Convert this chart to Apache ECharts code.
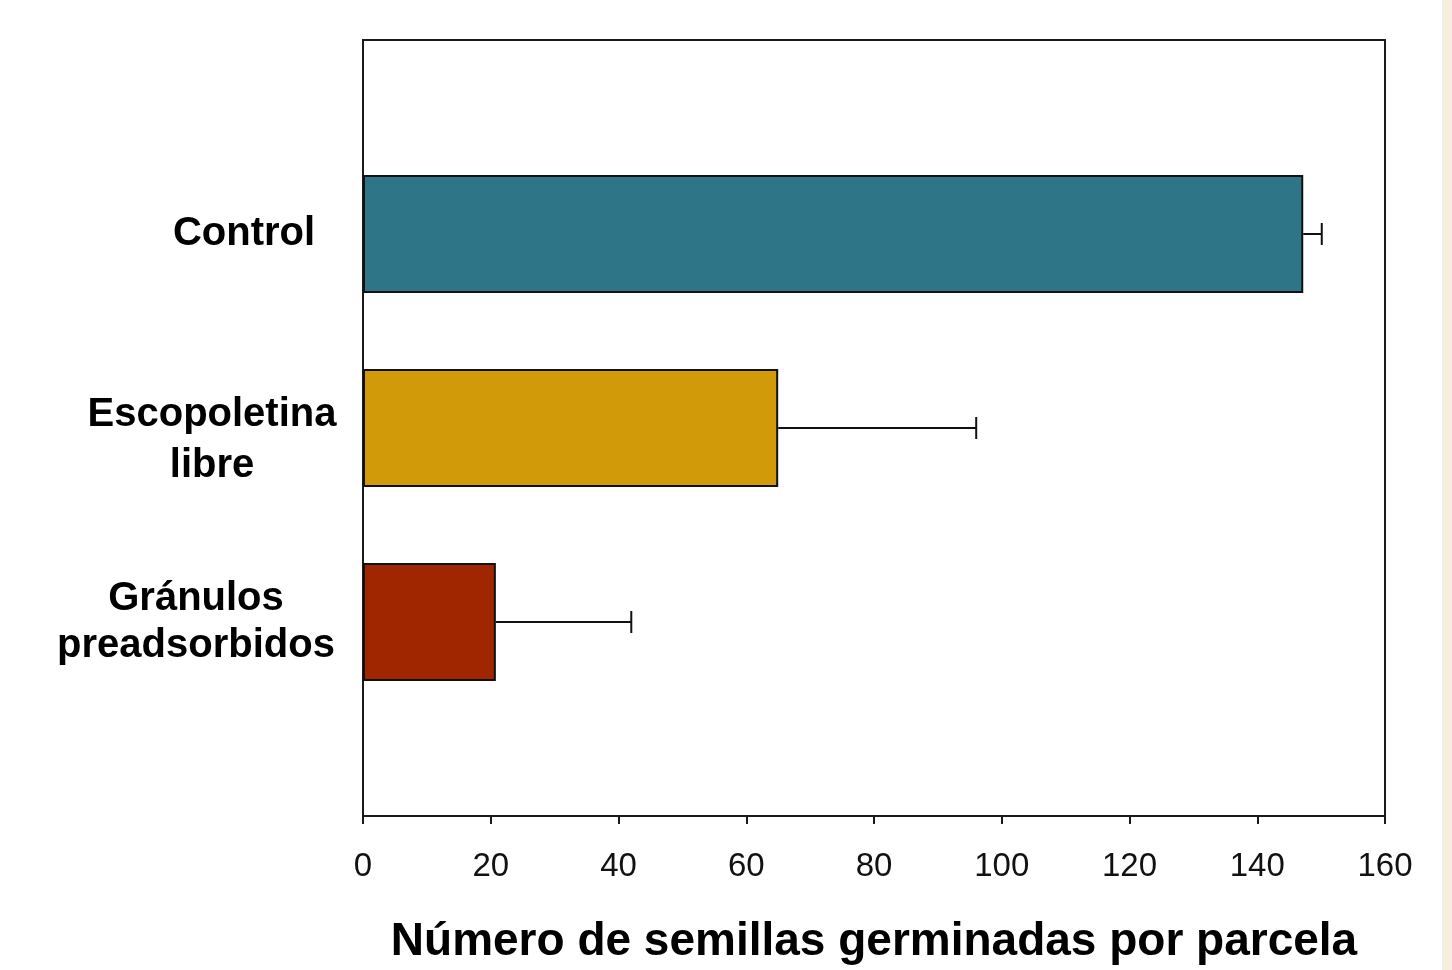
<!DOCTYPE html>
<html>
<head>
<meta charset="utf-8">
<script src="https://cdn.jsdelivr.net/npm/echarts@6/dist/echarts.min.js"></script>
<style>
  html, body { margin: 0; padding: 0; background: #fff; }
  #chart { width: 1452px; height: 970px; }
  #edge { position: absolute; left: 1442px; top: 0; width: 10px; height: 970px; background: #f6eedf; }
</style>
</head>
<body>
<div id="chart"></div>
<div id="edge"></div>
<script>
// categorias (de abajo hacia arriba), con huecos vacios en los extremos
var categorias = ['', 'Gránulos\npreadsorbidos', 'Escopoletina\nlibre', 'Control', '']
var medias = [null, 20.8, 65, 147.2, null]
var errores = [null, 21.2, 31, 2.9, null]
var colores = ['#000', '#a02600', '#d09a08', '#2e7587', '#000']
var ticksX = [0, 20, 40, 60, 80, 100, 120, 140, 160]

// ancho del recuadro de cada etiqueta (para centrar las lineas)
var anchoEtiqueta = { 'Control': 186, 'Escopoletina\nlibre': 250, 'Gránulos\npreadsorbidos': 282 }
var altoLinea = { 'Control': 49, 'Escopoletina\nlibre': 51, 'Gránulos\npreadsorbidos': 47 }
var sangriaArriba = { 'Control': 0, 'Escopoletina\nlibre': 25, 'Gránulos\npreadsorbidos': 0 }

var chart = echarts.init(document.getElementById('chart'))

var barData = medias.map(function (v, i) {
  if (v == null) return '-'
  return { value: v, itemStyle: { color: colores[i] } }
})

var errData = []
medias.forEach(function (v, i) {
  if (v != null) errData.push([v, i, v + errores[i]])
})

var fuente = 'Liberation Sans, Arial, sans-serif'
var rich = {}
Object.keys(anchoEtiqueta).forEach(function (k, n) {
  rich['l' + n] = {
    width: anchoEtiqueta[k],
    align: 'center',
    fontSize: 40,
    fontWeight: 'bold',
    lineHeight: altoLinea[k],
    color: '#000',
    fontFamily: fuente
  }
  rich['s' + n] = { width: anchoEtiqueta[k], fontSize: 8, lineHeight: sangriaArriba[k] }
})

var option = {
  backgroundColor: '#fff',
  animation: false,
  grid: {
    left: 363, right: 67, top: 40, bottom: 152,
    show: true, borderColor: '#1a1a1a', borderWidth: 2, backgroundColor: 'transparent'
  },
  xAxis: {
    type: 'value',
    min: 0, max: 160, interval: 20,
    name: 'Número de semillas germinadas por parcela',
    nameLocation: 'middle',
    nameGap: 103,
    nameTextStyle: { fontSize: 46, fontWeight: 'bold', color: '#000', fontFamily: fuente },
    axisLine: { show: true, lineStyle: { color: '#1a1a1a', width: 2 } },
    axisTick: { show: true, length: 8, lineStyle: { color: '#1a1a1a', width: 2 } },
    axisLabel: {
      fontSize: 33, color: '#111', margin: 34,
      fontFamily: fuente,
      formatter: function (v) { return ticksX.indexOf(v) >= 0 ? String(v) : '' }
    },
    splitLine: { show: false }
  },
  yAxis: {
    type: 'category',
    data: categorias,
    boundaryGap: false,
    axisLine: { show: true, lineStyle: { color: '#1a1a1a', width: 2 } },
    axisTick: { show: false },
    axisLabel: {
      margin: 26,
      align: 'right',
      interval: 0,
      rich: rich,
      formatter: function (v) {
        if (!v) return ''
        var n = Object.keys(anchoEtiqueta).indexOf(v)
        var lineas = v.split('\n').map(function (s) { return '{l' + n + '|' + s + '}' })
        if (sangriaArriba[v] > 0) lineas.unshift('{s' + n + '| }')
        return lineas.join('\n')
      }
    },
    splitLine: { show: false }
  },
  series: [
    {
      type: 'bar',
      data: barData,
      barWidth: 118,
      itemStyle: { borderColor: '#111', borderWidth: 2 }
    },
    {
      type: 'custom',
      data: errData,
      encode: { x: [0, 2], y: 1 },
      z: 5,
      renderItem: function (params, api) {
        var a = api.coord([api.value(0), api.value(1)])
        var b = api.coord([api.value(2), api.value(1)])
        var st = { stroke: '#111', lineWidth: 2 }
        return {
          type: 'group',
          children: [
            { type: 'line', shape: { x1: a[0], y1: a[1], x2: b[0], y2: b[1] }, style: st },
            { type: 'line', shape: { x1: b[0], y1: b[1] - 11, x2: b[0], y2: b[1] + 11 }, style: st }
          ]
        }
      }
    }
  ]
}

chart.setOption(option)
</script>
</body>
</html>
